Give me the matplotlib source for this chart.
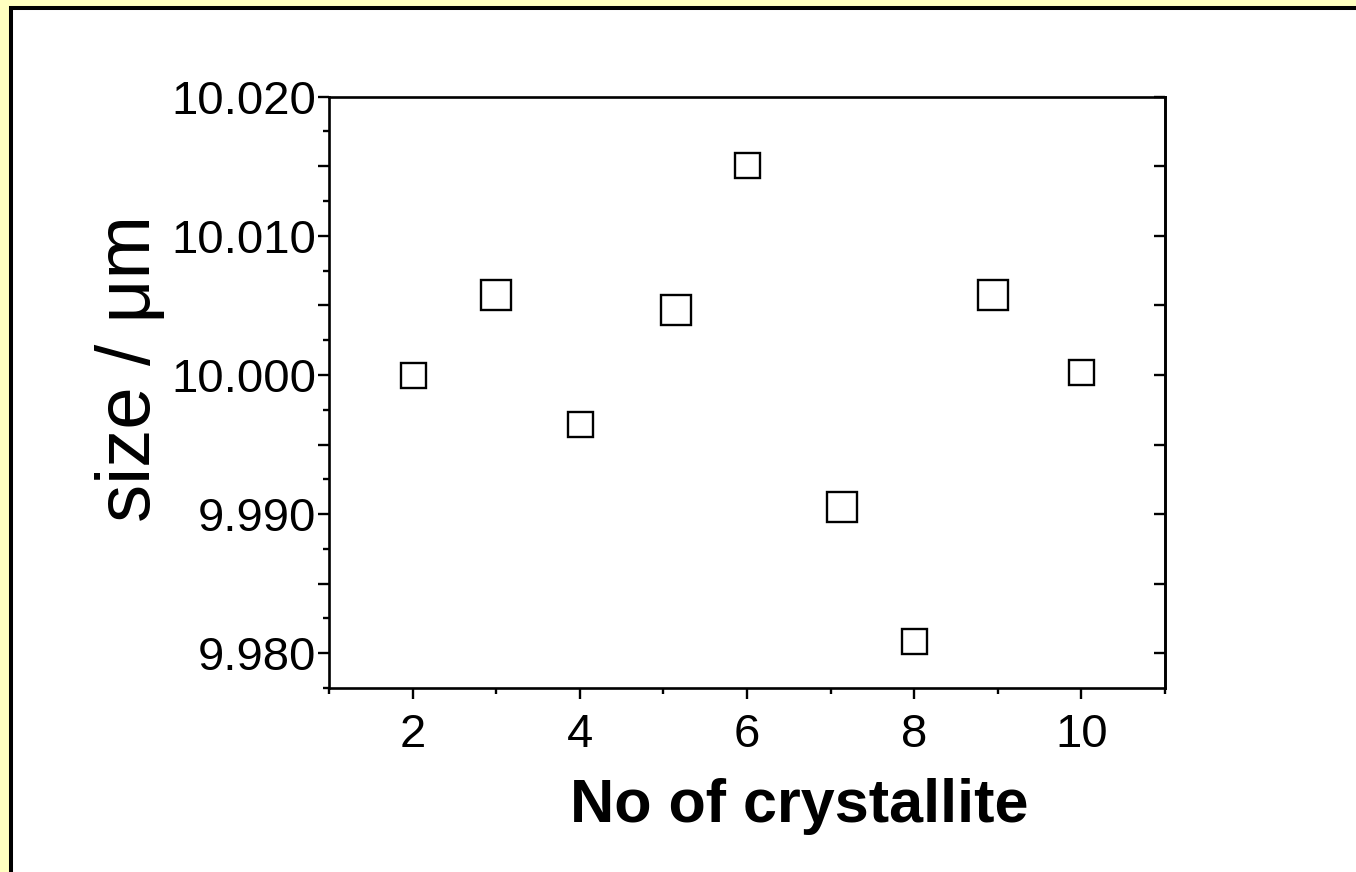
import numpy as np
import matplotlib
matplotlib.use('Agg')
import matplotlib.pyplot as plt
import matplotlib.ticker as mticker
import matplotlib.patches as mpatches

# crystallite sizes, two measurement runs (um)
aNo_a = [2, 4, 6, 8, 10]
aSize_a = [10.0000, 9.99651, 10.01509, 9.98085, 10.00018]
aNo_b = [3, 5.15, 7.14, 8.94]
aSize_b = [10.00575, 10.00467, 9.99051, 10.00575]

aYtick_major = [9.980, 9.985, 9.990, 9.995, 10.000, 10.005, 10.010, 10.015, 10.020]
aYtick_minor = [9.9775, 9.9825, 9.9875, 9.9925, 9.9975, 10.0025, 10.0075, 10.0125, 10.0175]
aXtick_major = [2, 4, 6, 8, 10]
aXtick_minor = [1, 3, 5, 7, 9, 11]

plt.rcParams['font.family'] = ['Liberation Sans', 'DejaVu Sans']

fig = plt.figure(figsize=(13.56, 8.72), dpi=100, facecolor='#ffffc0')

# slide-like frame: white panel with black edge on top and left
W, H = 1356.0, 872.0
frame = mpatches.Rectangle((11 / W, -0.1), 1.2, 1.1 - 8 / H,
                           transform=fig.transFigure, facecolor='white',
                           edgecolor='black', linewidth=2.9, zorder=-5)
fig.patches.append(frame)

ax = fig.add_axes([329 / W, 1 - 688 / H, (1165 - 329) / W, (688 - 96.7) / H])
ax.set_zorder(2)
ax.set_facecolor('white')

ax.plot(aNo_a, aSize_a, linestyle='none', marker='s', markersize=18,
        markerfacecolor='white', markeredgecolor='black', markeredgewidth=1.7)
ax.plot(aNo_b, aSize_b, linestyle='none', marker='s', markersize=21,
        markerfacecolor='white', markeredgecolor='black', markeredgewidth=1.7)

ax.set_xlim(1, 11)
ax.set_ylim(9.9775, 10.020)

for s in ['left', 'right', 'top', 'bottom']:
    ax.spines[s].set_linewidth(1.9)

ax.xaxis.set_major_locator(mticker.FixedLocator(aXtick_major))
ax.xaxis.set_minor_locator(mticker.FixedLocator(aXtick_minor))
ax.yaxis.set_major_locator(mticker.FixedLocator(aYtick_major))
ax.yaxis.set_minor_locator(mticker.FixedLocator(aYtick_minor))


def fmt_y(v, pos):
    # label only every 0.010
    if abs(round(v * 100) - v * 100) < 1e-6:
        return '{:.3f}'.format(v)
    return ''


ax.yaxis.set_major_formatter(mticker.FuncFormatter(fmt_y))

ax.tick_params(axis='both', which='both', direction='out', top=False, right=False,
               width=1.7, labelsize=34)
ax.tick_params(axis='both', which='major', length=8)
ax.tick_params(axis='both', which='minor', length=4)
ax.tick_params(axis='y', which='major', pad=1)
ax.tick_params(axis='x', which='major', pad=10)

# inward ticks on the right edge
sec = ax.secondary_yaxis('right')
sec.set_yticks(aYtick_major)
sec.yaxis.set_major_formatter(mticker.NullFormatter())
sec.yaxis.set_minor_locator(mticker.NullLocator())
sec.tick_params(axis='y', direction='in', length=8, width=1.7)
sec.spines['right'].set_linewidth(1.9)

ax.text(0.562, -0.2266, 'No of crystallite', transform=ax.transAxes,
        ha='center', va='baseline', fontsize=44, fontweight='bold')
ax.text(-0.214, 0.541, 'size / \u03bcm', transform=ax.transAxes,
        rotation=90, rotation_mode='anchor', ha='center', va='baseline',
        fontsize=55)

plt.savefig('out.png', dpi=100, facecolor=fig.get_facecolor())
plt.close(fig)
